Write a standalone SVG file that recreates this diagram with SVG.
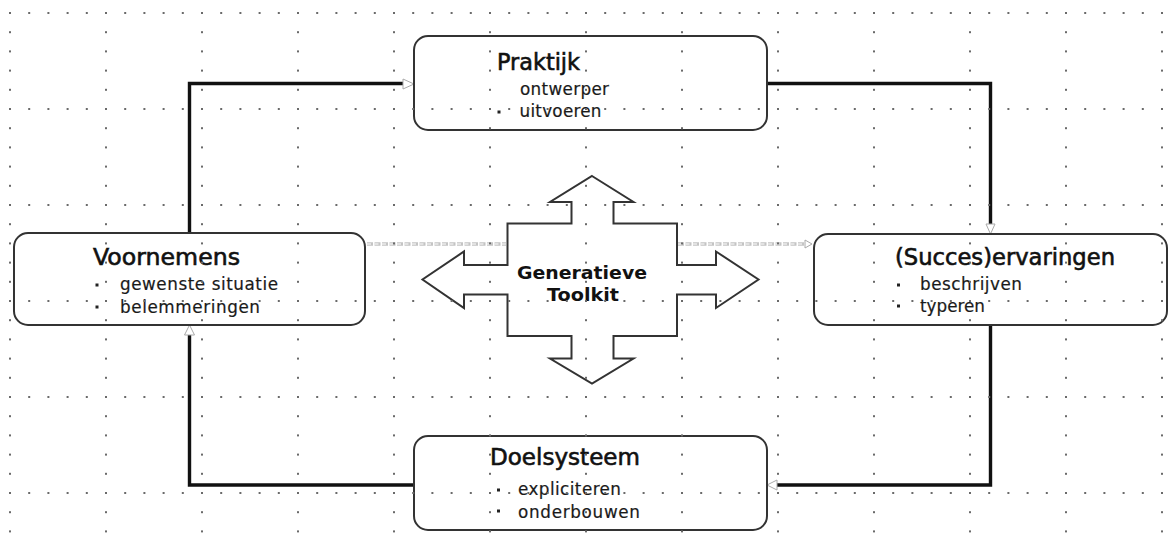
<svg xmlns="http://www.w3.org/2000/svg" width="1174" height="546" viewBox="0 0 1174 546">
<style>
.box{fill:#fff;stroke:#333;stroke-width:2}
.title{font-family:"DejaVu Sans",Verdana,sans-serif;font-size:22.5px;fill:#111;stroke:#111;stroke-width:0.6}
.item{font-family:"DejaVu Sans",Verdana,sans-serif;font-size:16.8px;fill:#1a1a1a;stroke:#1a1a1a;stroke-width:0.2}
.tk{font-family:"DejaVu Sans",Verdana,sans-serif;font-size:18px;font-weight:bold;fill:#111}
.bul{fill:#222}
.conn{fill:none;stroke:#111;stroke-width:3.4}
.head{fill:#fff;stroke:#aaa;stroke-width:1}
.dashO{fill:none;stroke:#c4c4c4;stroke-width:3.5;stroke-dasharray:6 1.5}
.dashI{fill:none;stroke:#fff;stroke-width:1.2;stroke-dasharray:4 3.5}
.shape{fill:#fff;stroke:#333;stroke-width:2;stroke-linejoin:miter}
</style>
<defs>
<pattern id="grid" x="9" y="12" width="96" height="96" patternUnits="userSpaceOnUse">
<g fill="#6a6a6a">
<rect x="0" y="0" width="2" height="2"/><rect x="19.2" y="0" width="2" height="2"/><rect x="38.4" y="0" width="2" height="2"/><rect x="57.6" y="0" width="2" height="2"/><rect x="76.8" y="0" width="2" height="2"/>
<rect x="0" y="19.2" width="2" height="2"/><rect x="0" y="38.4" width="2" height="2"/><rect x="0" y="57.6" width="2" height="2"/><rect x="0" y="76.8" width="2" height="2"/>
</g>
</pattern>
</defs>
<rect width="1174" height="546" fill="#fff"/>

<g id="connectors">
<path class="conn" d="M189.5,233 V83.5 H404"/>
<polygon class="head" points="403,79 414,84 403,89"/>
<path class="conn" d="M767,83.5 H990.5 V224"/>
<polygon class="head" points="986,224 990.5,234 995,224"/>
<path class="conn" d="M990.5,325 V485 H777"/>
<polygon class="head" points="777,480 767,485 777,490"/>
<path class="conn" d="M414,485 H189.5 V335"/>
<polygon class="head" points="184.5,335 189.5,325 194.5,335"/>
<path class="dashO" d="M367,244 H506"/>
<path class="dashI" d="M367,244 H506"/>
<path class="dashO" d="M678,244 H805"/>
<path class="dashI" d="M678,244 H805"/>
<polygon class="head" points="805,240 812,244 805,248"/>
</g>

<g id="praktijk">
<rect class="box" x="414" y="36" width="353" height="94" rx="14"/>
<text class="title" x="497" y="70" textLength="83" lengthAdjust="spacingAndGlyphs">Praktijk</text>
<text class="item" x="520" y="95" textLength="89">ontwerper</text>
<rect class="bul" x="497.5" y="110.5" width="3" height="3"/>
<text class="item" x="519.5" y="117" textLength="82">uitvoeren</text>
</g>

<g id="voornemens">
<rect class="box" x="14" y="233" width="351" height="92" rx="14"/>
<text class="title" x="93" y="265" textLength="147" lengthAdjust="spacingAndGlyphs">Voornemens</text>
<rect class="bul" x="95.5" y="283.5" width="3" height="3"/>
<text class="item" x="120" y="290" textLength="158">gewenste situatie</text>
<rect class="bul" x="95.5" y="305.5" width="3" height="3"/>
<text class="item" x="120" y="313" textLength="140">belemmeringen</text>
</g>

<g id="succes">
<rect class="box" x="814" y="234" width="353" height="91" rx="14"/>
<text class="title" x="895" y="265" textLength="220" lengthAdjust="spacingAndGlyphs">(Succes)ervaringen</text>
<rect class="bul" x="897" y="283.5" width="3" height="3"/>
<text class="item" x="920" y="290" textLength="102">beschrijven</text>
<rect class="bul" x="897" y="304.5" width="3" height="3"/>
<text class="item" x="920" y="312" textLength="65">typeren</text>
</g>

<g id="doelsysteem">
<rect class="box" x="414" y="436" width="353" height="94" rx="14"/>
<text class="title" x="490" y="465" textLength="150" lengthAdjust="spacingAndGlyphs">Doelsysteem</text>
<rect class="bul" x="497" y="488.5" width="3" height="3"/>
<text class="item" x="518" y="495" textLength="103">expliciteren</text>
<rect class="bul" x="497" y="509.5" width="3" height="3"/>
<text class="item" x="518" y="518" textLength="122">onderbouwen</text>
</g>

<g id="toolkit">
<polygon class="shape" points="592,176 633.5,202 613.5,202 613.5,223.5 677,223.5 677,265 716,265 716,251.5 758.5,279.5 716,308 716,294.5 677,294.5 677,336 613.5,336 613.5,358.5 633.5,358.5 592,383.5 550,358.5 571.5,358.5 571.5,336 507.5,336 507.5,294.5 464,294.5 464,308 422.5,279.5 464,251.5 464,265 507.5,265 507.5,223.5 571.5,223.5 571.5,202 550,202"/>
<text class="tk" x="517" y="278.5" textLength="130" lengthAdjust="spacingAndGlyphs">Generatieve</text>
<text class="tk" x="547" y="301" textLength="72" lengthAdjust="spacingAndGlyphs">Toolkit</text>
</g>

<rect width="1174" height="546" fill="url(#grid)"/>
</svg>
